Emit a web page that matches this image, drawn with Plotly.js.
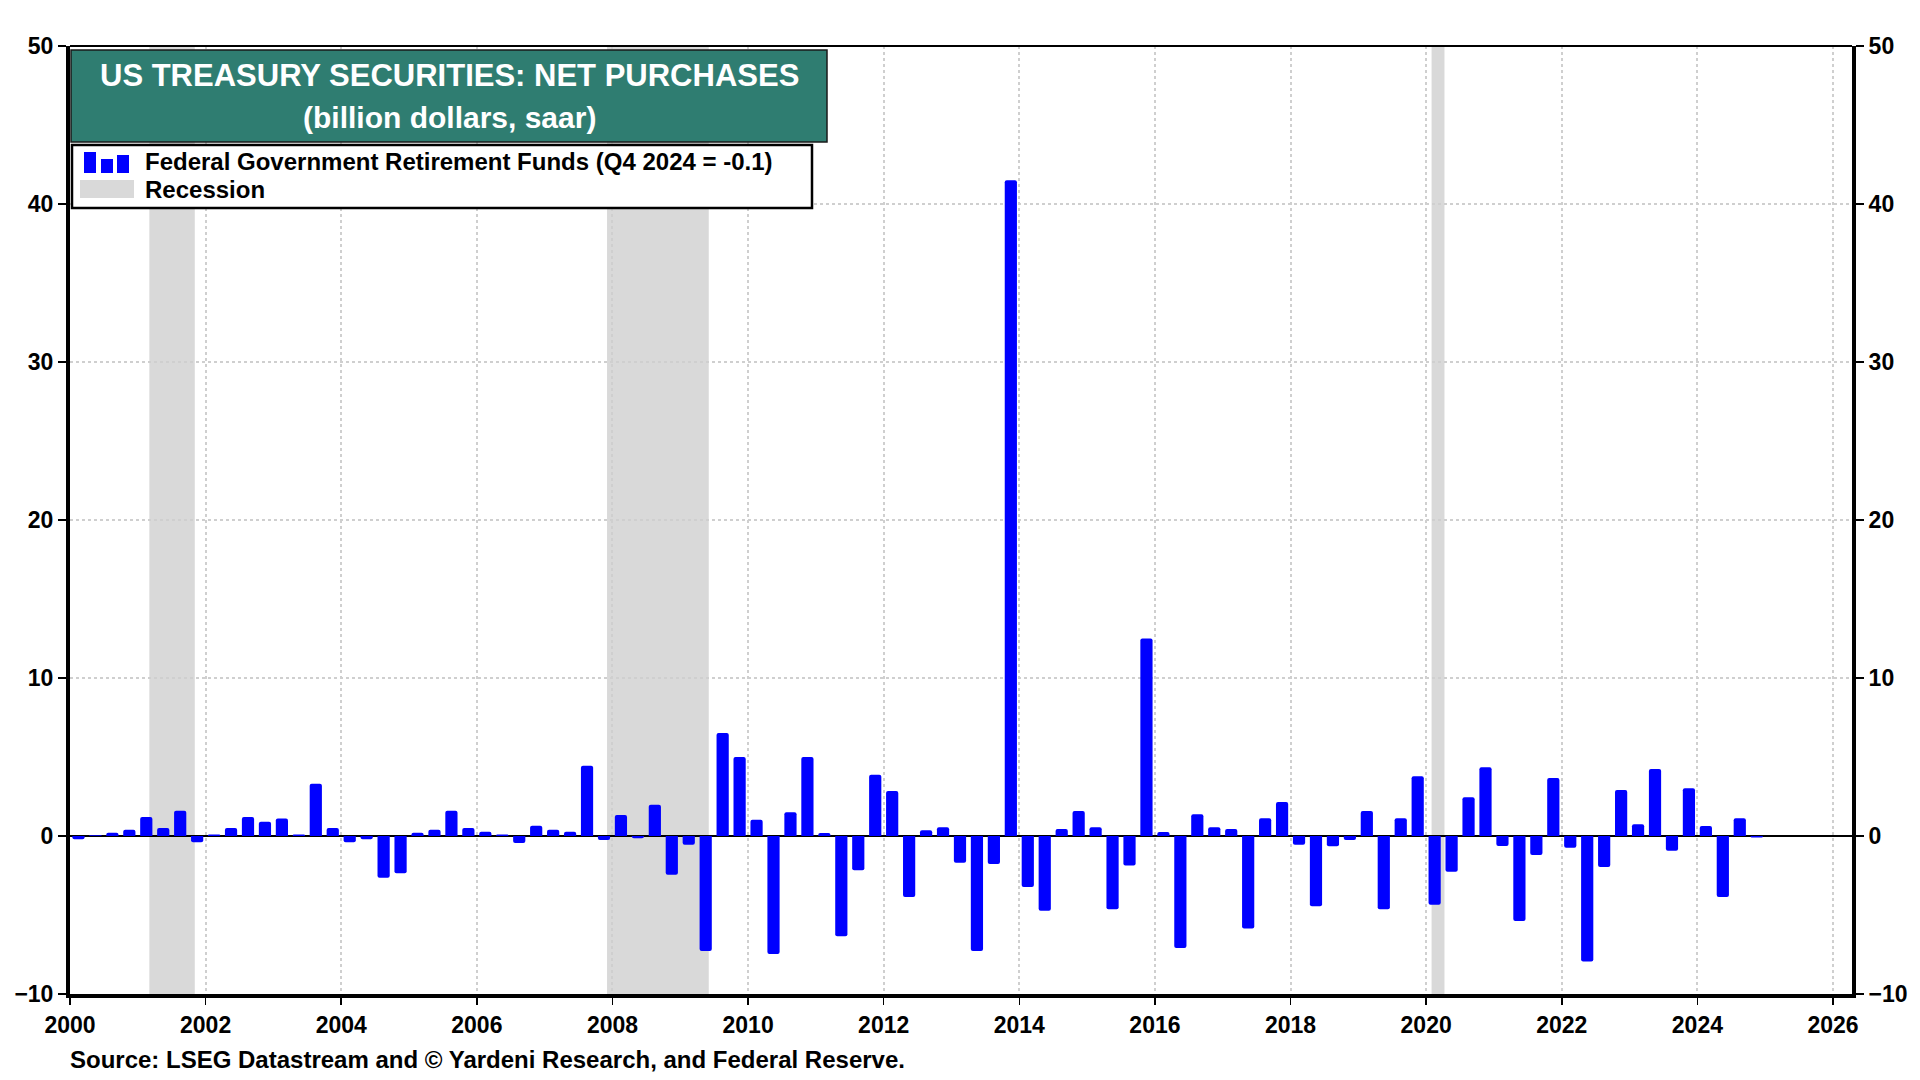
<!DOCTYPE html>
<html>
<head>
<meta charset="utf-8">
<script src="https://cdn.plot.ly/plotly-3.0.1.min.js"></script>
<style>
  html, body { margin: 0; padding: 0; background: #fff; }
  #chart { width: 1920px; height: 1080px; }
</style>
</head>
<body>
<div id="chart"></div>
<script>
// quarterly net purchases, billion dollars saar, 2000 Q1 .. 2024 Q4
var startYear = 2000;
var purchases = [
  -0.2, 0.05, 0.2, 0.4,    // 2000
  1.2, 0.5, 1.6, -0.4,     // 2001
  0.1, 0.5, 1.2, 0.9,      // 2002
  1.1, 0.1, 3.3, 0.5,      // 2003
  -0.4, -0.2, -2.65, -2.35,// 2004
  0.2, 0.4, 1.6, 0.5,      // 2005
  0.27, 0.1, -0.45, 0.65,  // 2006
  0.4, 0.27, 4.45, -0.25,  // 2007
  1.33, -0.15, 1.98, -2.45,// 2008
  -0.55, -7.28, 6.52, 5.0, // 2009
  1.03, -7.47, 1.5, 5.0,   // 2010
  0.19, -6.35, -2.17, 3.88,// 2011
  2.85, -3.86, 0.36, 0.55, // 2012
  -1.69, -7.28, -1.77, 41.5, // 2013
  -3.23, -4.73, 0.44, 1.58,// 2014
  0.55, -4.64, -1.86, 12.5,// 2015
  0.25, -7.09, 1.37, 0.55, // 2016
  0.44, -5.86, 1.12, 2.15, // 2017
  -0.55, -4.45, -0.65, -0.25, // 2018
  1.58, -4.64, 1.12, 3.78, // 2019
  -4.35, -2.26, 2.45, 4.35,// 2020
  -0.63, -5.38, -1.2, 3.67,// 2021
  -0.74, -7.95, -1.96, 2.91, // 2022
  0.74, 4.24, -0.93, 3.02, // 2023
  0.63, -3.86, 1.12, -0.1  // 2024
];

// recession periods as decimal years
var recessionStart = [2001.17, 2007.92, 2020.08];
var recessionEnd   = [2001.84, 2009.42, 2020.27];

var yTicks = [-10, 0, 10, 20, 30, 40, 50];
var xTicks = [2000, 2002, 2004, 2006, 2008, 2010, 2012, 2014, 2016, 2018, 2020, 2022, 2024, 2026];

var seriesName = 'Federal Government Retirement Funds (Q4 2024 = -0.1)';

// mid-quarter positions
var quarters = purchases.map(function (v, i) {
  return startYear + Math.floor(i / 4) + ((i % 4) + 0.5) / 4;
});

var FONT = "'Liberation Sans', Arial, sans-serif";

// pixel helpers for the boxes drawn over the plot
var L = 70, R = 68, T = 46, B = 86, W = 1920, H = 1080;
function px(x) { return (x - L) / (W - L - R); }
function py(y) { return (H - B - y) / (H - T - B); }
function pxRect(x0, y0, x1, y1, fill, line) {
  return {type: 'rect', layer: 'above', xref: 'paper', yref: 'paper',
    x0: px(x0), x1: px(x1), y0: py(y1), y1: py(y0),
    fillcolor: fill, line: line || {width: 0}};
}

var shapes = recessionStart.map(function (s, i) {
  return {
    type: 'rect', layer: 'below', xref: 'x', yref: 'paper',
    x0: s, x1: recessionEnd[i], y0: 0, y1: 1,
    fillcolor: '#d9d9d9', line: {width: 0}
  };
});
// top frame line
shapes.push({type: 'line', xref: 'paper', yref: 'paper', x0: 0, x1: 1, y0: 1, y1: 1,
  line: {color: '#000', width: 2}});
// title box
shapes.push(pxRect(71, 50, 827, 142, '#2f7d71', {color: '#1a1a1a', width: 1.5}));
// legend box and its keys
shapes.push(pxRect(72, 145, 812, 208, '#ffffff', {color: '#000', width: 2.5}));
shapes.push(pxRect(84, 152, 96, 173, '#0000ff'));
shapes.push(pxRect(101, 159, 113, 173, '#0000ff'));
shapes.push(pxRect(117, 155, 129, 173, '#0000ff'));
shapes.push(pxRect(80, 180, 134, 198, '#d9d9d9'));

var data = [
  {
    type: 'bar', x: quarters, y: purchases,
    name: seriesName,
    width: 0.18,
    marker: {color: '#0000ff', line: {width: 0}, cornerradius: 2}
  },
  {
    // carries the right-hand axis
    type: 'scatter', x: [startYear], y: [0], mode: 'none',
    yaxis: 'y2', hoverinfo: 'skip'
  }
];

var tickFont = {family: FONT, size: 23, weight: 'bold', color: '#000'};

var layout = {
  width: W, height: H,
  margin: {l: L, r: R, t: T, b: B},
  paper_bgcolor: '#fff', plot_bgcolor: 'rgba(0,0,0,0)',
  font: {family: FONT, color: '#000'},
  showlegend: false,
  xaxis: {
    range: [2000, 2026.28],
    tickvals: xTicks, ticktext: xTicks.map(String),
    tickfont: tickFont,
    ticks: 'outside', ticklen: 7, tickwidth: 1.5, tickcolor: '#000',
    showline: true, linecolor: '#000', linewidth: 4,
    showgrid: true, gridcolor: '#cfcfcf', gridwidth: 2, griddash: 'dot',
    zeroline: false
  },
  yaxis: {
    range: [-10, 50], tickvals: yTicks,
    tickfont: tickFont,
    ticks: 'outside', ticklen: 8, tickwidth: 1.5, tickcolor: '#000',
    showline: true, linecolor: '#000', linewidth: 4,
    showgrid: true, gridcolor: '#cfcfcf', gridwidth: 2, griddash: 'dot',
    zeroline: true, zerolinecolor: '#000', zerolinewidth: 1.5
  },
  yaxis2: {
    overlaying: 'y', side: 'right',
    range: [-10, 50], tickvals: yTicks,
    tickfont: tickFont,
    ticks: 'outside', ticklen: 8, tickwidth: 1.5, tickcolor: '#000',
    showline: true, linecolor: '#000', linewidth: 4,
    showgrid: false, zeroline: false
  },
  shapes: shapes,
  annotations: [
    {xref: 'paper', yref: 'paper', x: px(449), y: py(76), xanchor: 'center', yanchor: 'middle',
     showarrow: false, text: 'US TREASURY SECURITIES: NET PURCHASES',
     font: {family: FONT, size: 31, color: '#fff', weight: 'bold'}},
    {xref: 'paper', yref: 'paper', x: px(449), y: py(118), xanchor: 'center', yanchor: 'middle',
     showarrow: false, text: '(billion dollars, saar)',
     font: {family: FONT, size: 30, color: '#fff', weight: 'bold'}},
    {xref: 'paper', yref: 'paper', x: px(143), y: py(162), xanchor: 'left', yanchor: 'middle',
     showarrow: false, text: seriesName,
     font: {family: FONT, size: 24, color: '#000', weight: 'bold'}},
    {xref: 'paper', yref: 'paper', x: px(143), y: py(189), xanchor: 'left', yanchor: 'middle',
     showarrow: false, text: 'Recession',
     font: {family: FONT, size: 24, color: '#000', weight: 'bold'}},
    {xref: 'paper', yref: 'paper', x: px(68), y: py(1059), xanchor: 'left', yanchor: 'middle',
     showarrow: false,
     text: 'Source: LSEG Datastream and \u00a9 Yardeni Research, and Federal Reserve.',
     font: {family: FONT, size: 24, color: '#000', weight: 'bold'}}
  ]
};

Plotly.newPlot('chart', data, layout, {displayModeBar: false, staticPlot: true});
</script>
</body>
</html>
